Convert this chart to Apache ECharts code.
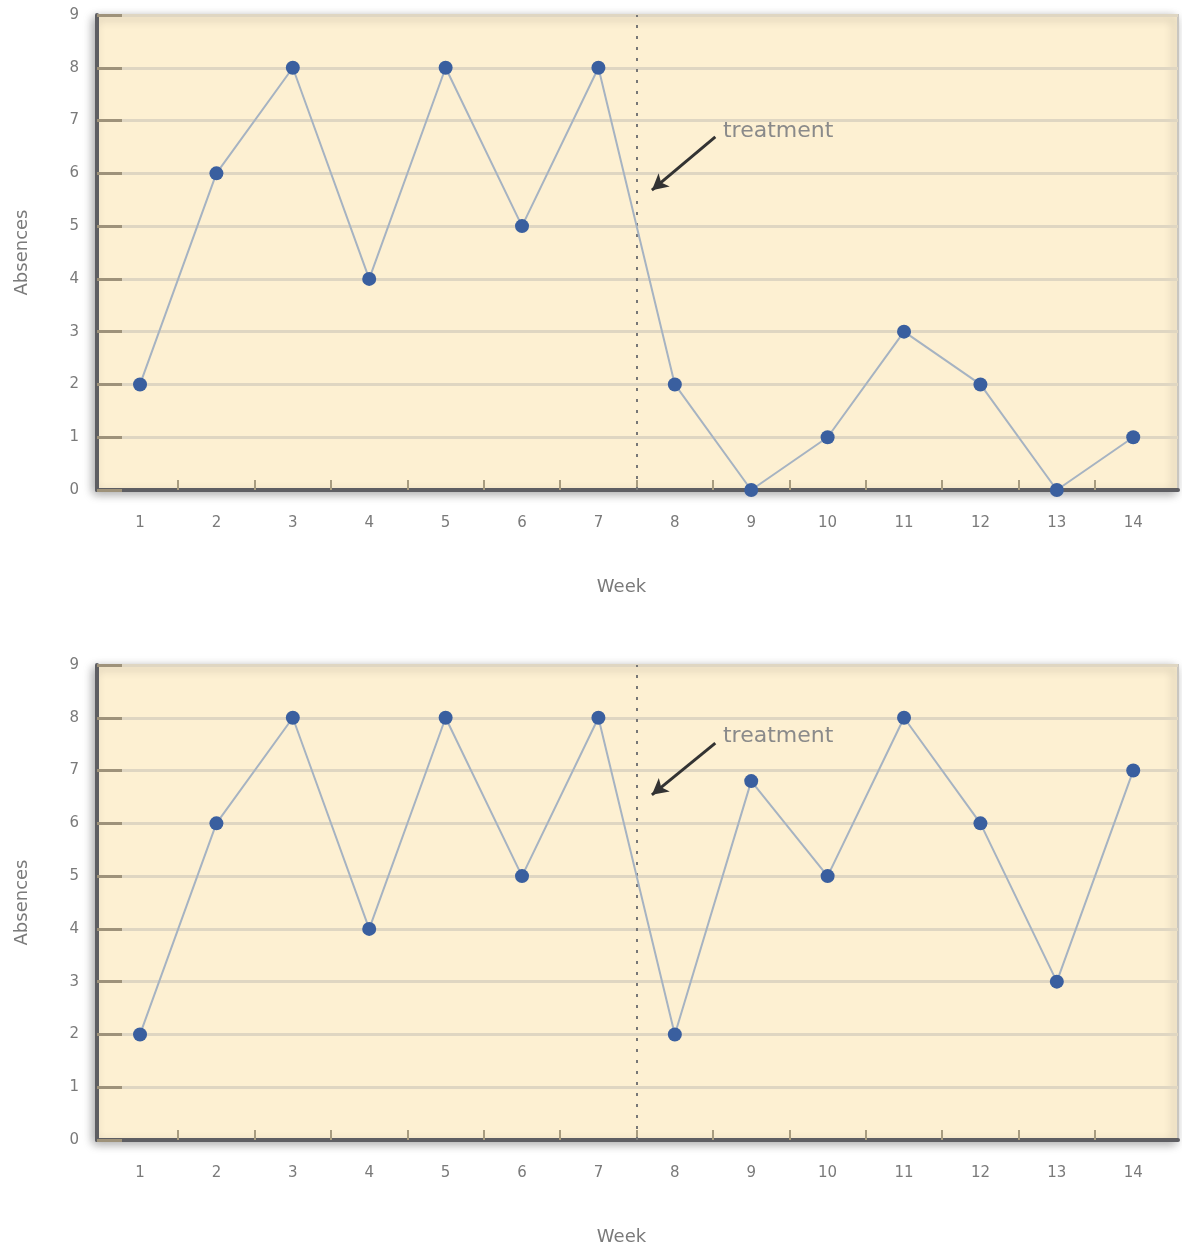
<!DOCTYPE html>
<html>
<head>
<meta charset="utf-8">
<script src="https://cdn.jsdelivr.net/npm/echarts@6/dist/echarts.min.js"></script>
<style>
html,body{margin:0;padding:0;background:#fff;}
#c{width:1182px;height:1249px;}
</style>
</head>
<body>
<div id="c"></div>
<script>
const weeks = [1,2,3,4,5,6,7,8,9,10,11,12,13,14];
const weekTickMarks = [1.5,2.5,3.5,4.5,5.5,6.5,7.5,8.5,9.5,10.5,11.5,12.5,13.5];
const absencesTop = [2,6,8,4,8,5,8,2,0,1,3,2,0,1];
const absencesBottom = [2,6,8,4,8,5,8,2,6.8,5,8,6,3,7];
const yTicks = [0,1,2,3,4,5,6,7,8,9];
const treatmentWeek = 7.5;
const annotationText = 'treatment';
const arrowTop = [[8.53, 6.69], [7.70, 5.68]];
const labelTop = [8.63, 6.79];
const arrowBottom = [[8.53, 7.52], [7.70, 6.54]];
const labelBottom = [8.63, 7.64];

const grids = [
  {left: 97, right: 4, top: 15, height: 475},
  {left: 97, right: 4, top: 665, height: 475}
];

const textColor = '#7a7a7a';
const font = 'DejaVu Sans, Verdana, sans-serif';

function gridOpt(g){
  return Object.assign({
    show: true,
    backgroundColor: '#fdf0d2',
    borderColor: '#c9c6c0',
    borderWidth: 2,
    shadowColor: 'rgba(0,0,0,0.35)',
    shadowBlur: 10,
    shadowOffsetX: -3,
    shadowOffsetY: 3
  }, g);
}

function xAxis(i){
  return {
    type: 'value', gridIndex: i, min: 0.437, max: 14.586,
    name: 'Week', nameLocation: 'middle', nameGap: 88,
    nameTextStyle: {color: textColor, fontSize: 18, fontFamily: font, padding:[0,32,0,0]},
    axisLine: {show: true, onZero: false, lineStyle: {color: '#5e5e62', width: 4}},
    axisTick: {show: true, inside: true, length: 10, customValues: weekTickMarks, lineStyle: {color: '#a89c80', width: 2}},
    axisLabel: {color: textColor, fontSize: 15, fontFamily: font, margin: 26, customValues: weeks},
    splitLine: {show: false}
  };
}
function yAxis(i){
  return {
    type: 'value', gridIndex: i, min: 0, max: 9, interval: 1,
    name: 'Absences', nameLocation: 'middle', nameGap: 66, nameRotate: 90,
    nameTextStyle: {color: textColor, fontSize: 18, fontFamily: font},
    axisLine: {show: true, lineStyle: {color: '#5e5e62', width: 4}},
    axisTick: {show: true, inside: true, length: 25, lineStyle: {color: '#9e927a', width: 3}},
    axisLabel: {color: textColor, fontSize: 15, fontFamily: font, margin: 18,
      formatter: v => yTicks.includes(v) ? String(v) : ''},
    splitLine: {show: true, lineStyle: {color: '#dfd6c2', width: 3}}
  };
}

function dataSeries(i, values, arrow, label){
  return {
    type: 'line', xAxisIndex: i, yAxisIndex: i,
    data: weeks.map((w, k) => [w, values[k]]),
    symbol: 'circle', symbolSize: 14,
    itemStyle: {color: '#3a5f9f'},
    lineStyle: {color: '#a6b3c2', width: 2},
    z: 5,
    markLine: {
      silent: true, animation: false, z: 3,
      symbol: ['none','none'],
      label: {show: false},
      data: [
        {xAxis: treatmentWeek, symbol: 'none', lineStyle: {color: '#777', width: 2, type: [3, 8]}, label: {show: false}},
        [
          {coord: arrow[0], symbol: 'none'},
          {coord: arrow[1], symbol: 'arrow', symbolSize: [13, 16], lineStyle: {color: '#333', width: 3, type: 'solid'}, label: {show: false}}
        ]
      ]
    },
    markPoint: {
      silent: true, animation: false,
      data: [{coord: label, symbol: 'circle', symbolSize: 0,
        label: {show: true, position: 'right', distance: 0, formatter: annotationText, color: '#8a8a8a', fontSize: 22, fontFamily: font}}]
    }
  };
}

const chart = echarts.init(document.getElementById('c'));
chart.setOption({
  animation: false,
  grid: grids.map(gridOpt),
  xAxis: [xAxis(0), xAxis(1)],
  yAxis: [yAxis(0), yAxis(1)],
  series: [
    dataSeries(0, absencesTop, arrowTop, labelTop),
    dataSeries(1, absencesBottom, arrowBottom, labelBottom)
  ]
});
</script>
</body>
</html>
